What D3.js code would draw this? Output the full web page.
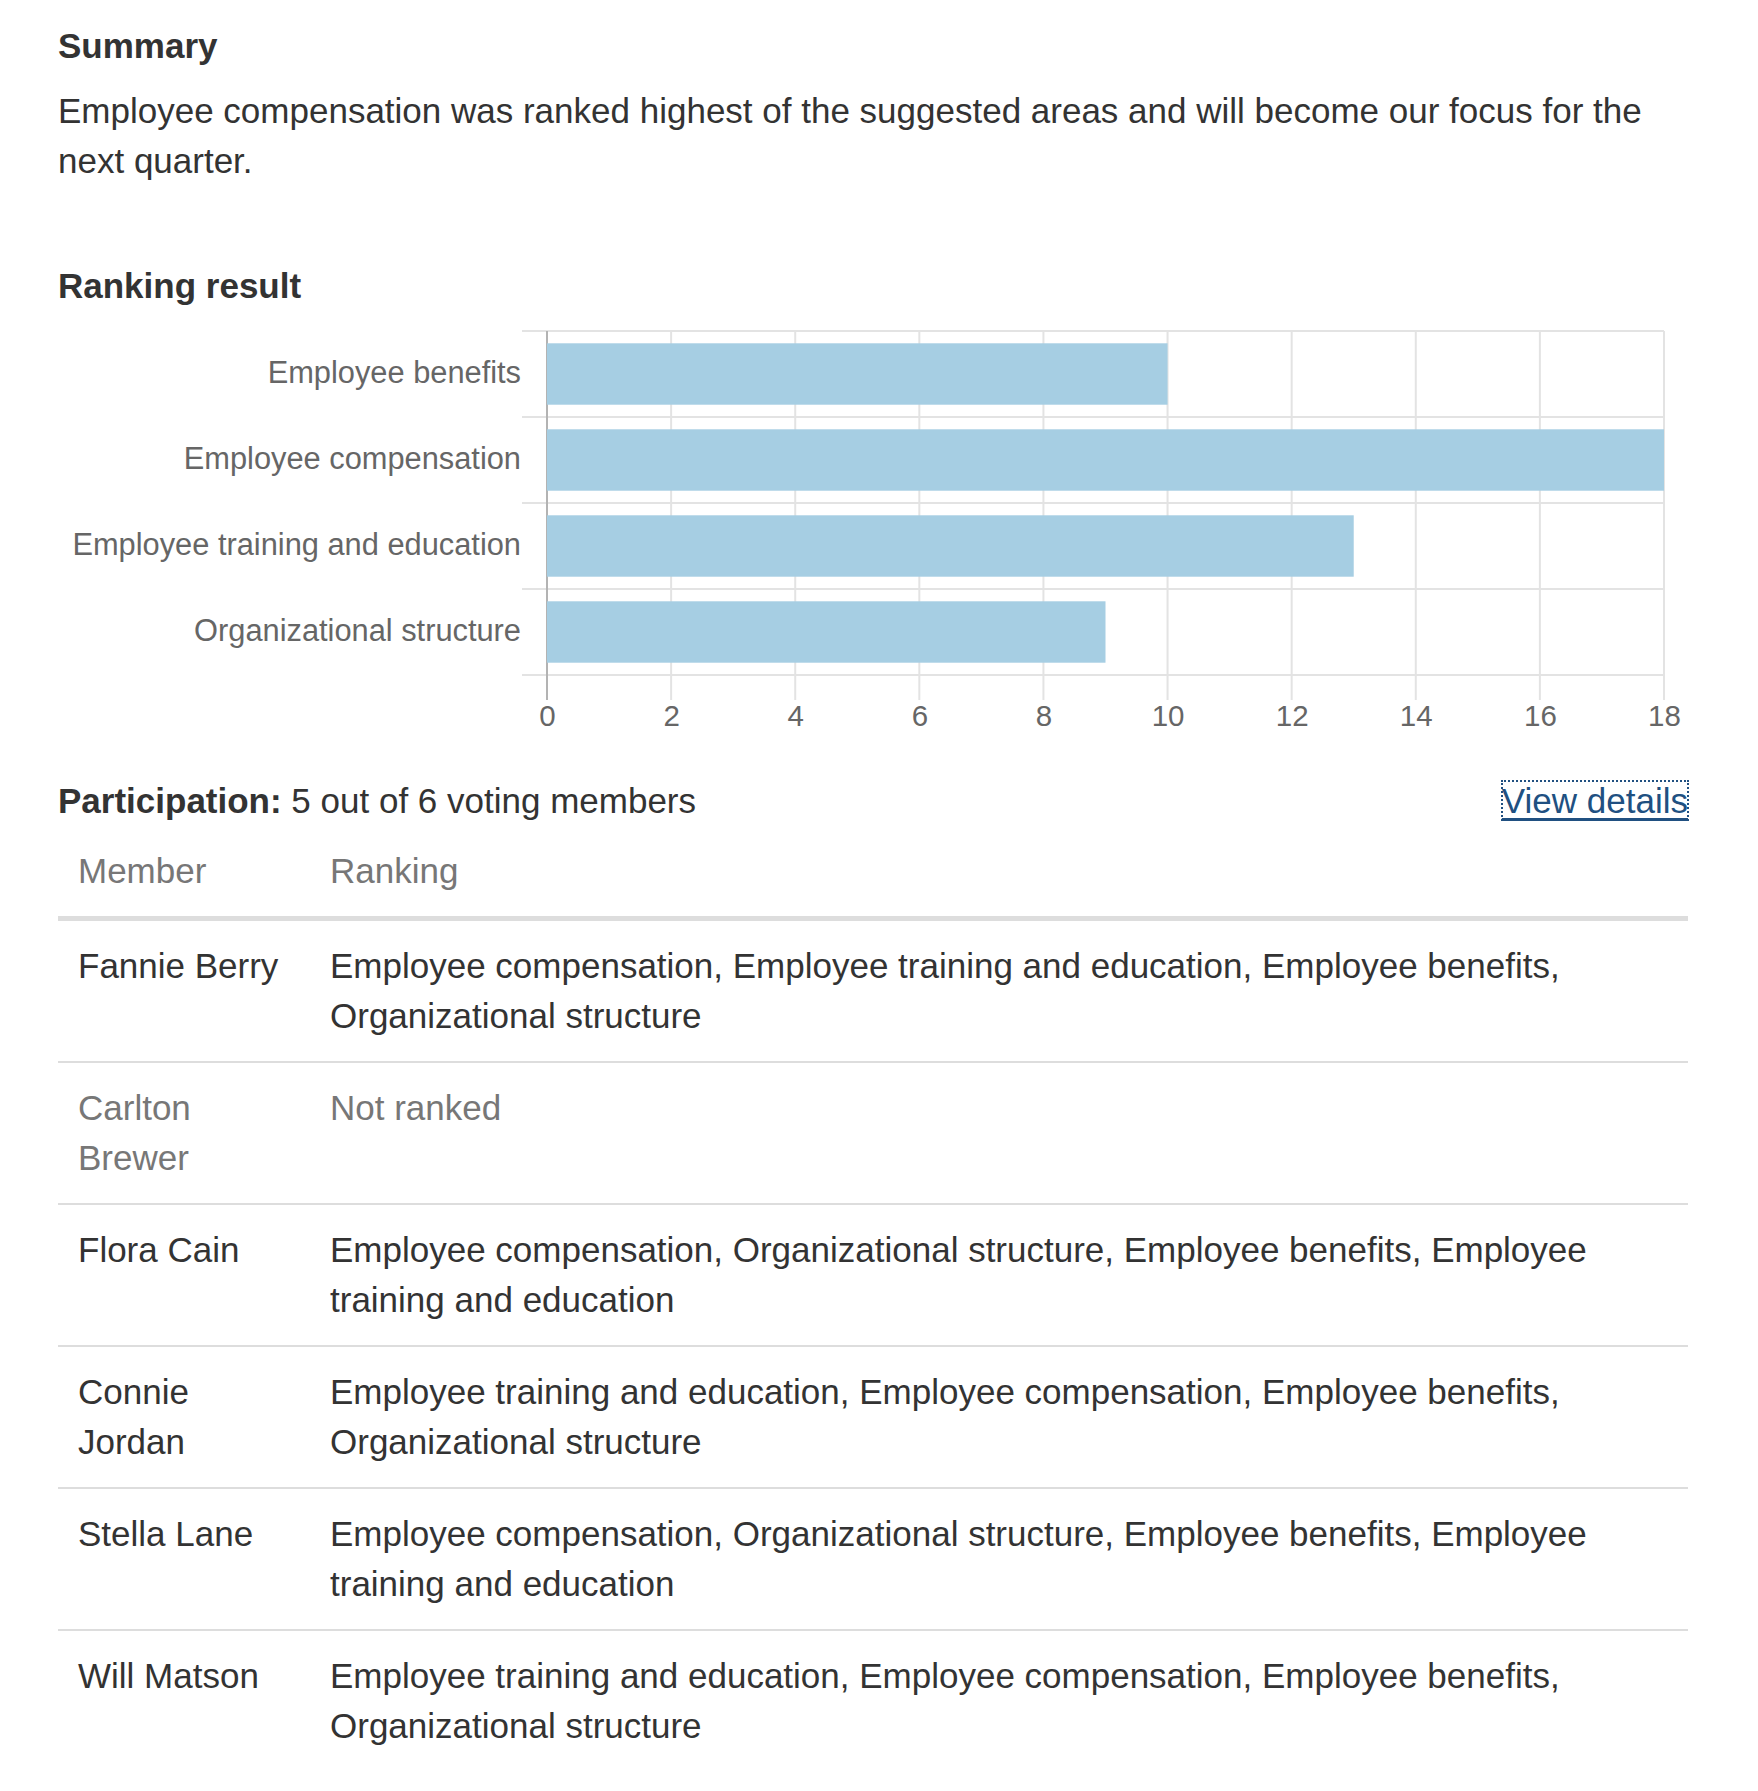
<!DOCTYPE html>
<html><head><meta charset="utf-8">
<script src="https://cdn.jsdelivr.net/npm/d3@7"></script>
<style>
html,body{margin:0;padding:0;background:#fff;}
body{width:1758px;height:1791px;position:relative;overflow:hidden;font-family:"Liberation Sans",Arial,Helvetica,sans-serif;color:#333;font-size:35px;line-height:50px;}
.blk{position:absolute;left:58px;width:1630px;margin:0;}
h2.blk{font-size:35px;font-weight:bold;line-height:50px;}
svg{position:absolute;left:0;top:0;}
table{border-collapse:collapse;table-layout:fixed;width:1630px;}
th,td{box-sizing:border-box;text-align:left;vertical-align:top;padding:20px;font-weight:normal;}
th{color:#777;border-bottom:5px solid #ddd;}
td{border-bottom:2px solid #ddd;}
tr:last-child td{border-bottom:none;}
.muted{color:#777;}
.part{display:flex;justify-content:space-between;}
.part b{font-weight:bold;}
a{color:#205081;text-decoration:underline;text-decoration-thickness:3px;text-underline-offset:5px;outline:2px dotted #205081;outline-offset:-1px;}
</style>
</head><body>
<script>
// ---------- data ----------
const summaryTitle = "Summary";
const summaryText = "Employee compensation was ranked highest of the suggested areas and will become our focus for the next quarter.";
const chartTitle = "Ranking result";
const categories = ["Employee benefits","Employee compensation","Employee training and education","Organizational structure"];
const scores = [10, 18, 13, 9];
const xTicks = [0, 2, 4, 6, 8, 10, 12, 14, 16, 18];
const xMax = 18;
const tableHeaders = ["Member", "Ranking"];
const members = ["Fannie Berry","Carlton Brewer","Flora Cain","Connie Jordan","Stella Lane","Will Matson"];
const memberRankings = [
  ["Employee compensation","Employee training and education","Employee benefits","Organizational structure"],
  null,
  ["Employee compensation","Organizational structure","Employee benefits","Employee training and education"],
  ["Employee training and education","Employee compensation","Employee benefits","Organizational structure"],
  ["Employee compensation","Organizational structure","Employee benefits","Employee training and education"],
  ["Employee training and education","Employee compensation","Employee benefits","Organizational structure"]
];
const votingMembers = 6;

// ---------- text blocks ----------
const body = d3.select("body");
body.append("h2").attr("class","blk").style("top","21px").text(summaryTitle);
body.append("p").attr("class","blk").style("top","86px").text(summaryText);
body.append("h2").attr("class","blk").style("top","261px").text(chartTitle);

// ---------- chart ----------
const svg = body.append("svg").attr("width",1758).attr("height",760);
const plotTop = 331, plotBottom = 675, gridBottom = 700, labelRight = 522;
const x = d3.scaleLinear().domain([0, xMax]).range([547, 1664]);
const y = d3.scaleBand().domain(categories).range([plotTop, plotBottom]).padding(0);
const barPad = 0.143;
const font = '"Liberation Sans",Arial,Helvetica,sans-serif';

svg.append("g").selectAll("line").data(xTicks.filter(t=>t>0)).join("line")
  .attr("x1",d=>x(d)).attr("x2",d=>x(d)).attr("y1",plotTop).attr("y2",gridBottom)
  .attr("stroke","#e3e3e3").attr("stroke-width",2);

const bounds = categories.map(c=>y(c)).concat([y.range()[1]]);
svg.append("g").selectAll("line").data(bounds).join("line")
  .attr("x1",labelRight).attr("x2",x(xMax)).attr("y1",d=>d).attr("y2",d=>d)
  .attr("stroke","#e3e3e3").attr("stroke-width",2);

svg.append("line").attr("x1",x(0)).attr("x2",x(0)).attr("y1",plotTop).attr("y2",gridBottom)
  .attr("stroke","#b3b3b3").attr("stroke-width",2);

svg.append("g").selectAll("rect").data(categories).join("rect")
  .attr("x",x(0)).attr("y",c=>y(c)+y.bandwidth()*barPad)
  .attr("width",(c,i)=>x(scores[i])-x(0)).attr("height",y.bandwidth()*(1-2*barPad))
  .attr("fill","#a6cee3");

const yAxis = svg.append("g").attr("transform",`translate(${x(0)},0)`)
  .call(d3.axisLeft(y).tickSize(0).tickPadding(x(0)-labelRight+1));
yAxis.select(".domain").remove();
yAxis.selectAll("text").attr("dy","0.28em").style("font-size","30.8px").style("font-family",font).attr("fill","#666");

const xAxis = svg.append("g").attr("transform",`translate(0,${gridBottom})`)
  .call(d3.axisBottom(x).tickValues(xTicks).tickSize(0).tickPadding(5));
xAxis.select(".domain").remove();
xAxis.selectAll("text").style("font-size","29.5px").style("font-family",font).attr("fill","#666");

// ---------- participation ----------
const ranked = memberRankings.filter(r=>r).length;
const part = body.append("div").attr("class","blk part").style("top","776px");
const left = part.append("div");
left.append("b").text("Participation:");
left.append("span").text(` ${ranked} out of ${votingMembers} voting members`);
part.append("div").append("a").attr("href","#").text("View details");

// ---------- table ----------
const table = body.append("table").attr("class","blk").style("top","826px");
table.append("thead").append("tr").selectAll("th").data(tableHeaders).join("th")
  .style("width",(d,i)=>i===0?"252px":"1378px").text(d=>d);
const rows = table.append("tbody").selectAll("tr").data(members).join("tr")
  .attr("class",(d,i)=>memberRankings[i]?null:"muted");
rows.append("td").text(d=>d);
rows.append("td").text((d,i)=>memberRankings[i]?memberRankings[i].join(", "):"Not ranked");
</script>
</body></html>
